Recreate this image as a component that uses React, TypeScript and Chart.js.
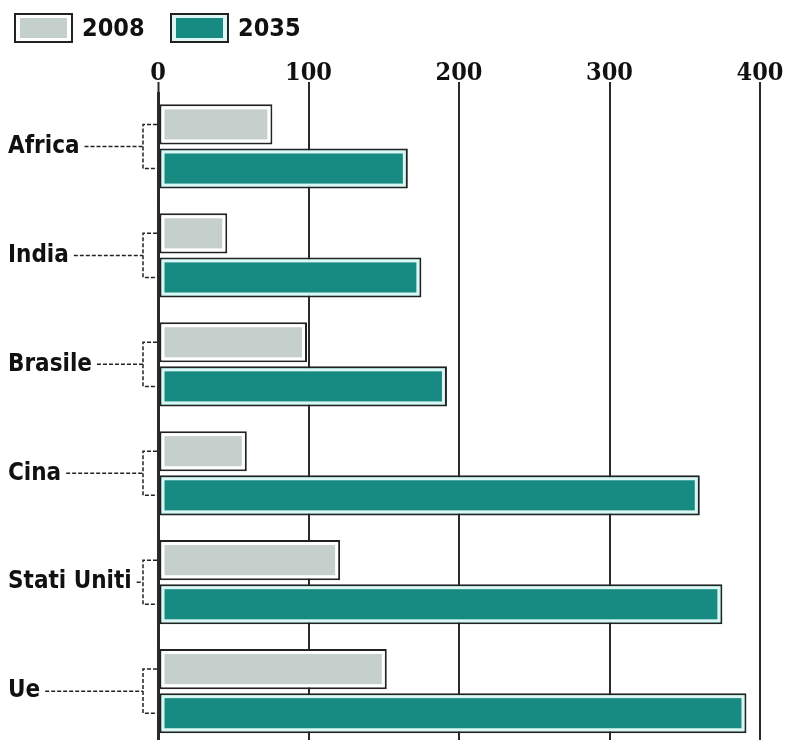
import React, { useEffect, useRef } from "react";
import { Chart, registerables } from "chart.js";

Chart.register(...registerables);

const categories = ["Africa", "India", "Brasile", "Cina", "Stati Uniti", "Ue"];
const seriesLabels = ["2008", "2035"];
const values2008 = [76, 46, 99, 59, 121, 152];
const values2035 = [166, 175, 192, 360, 375, 391];
const xTickMin = 0;
const xTickMax = 400;
const xTickStep = 100;

const COLOR_2008 = "#c5cfcb";
const COLOR_2035 = "#178a82";
const GAP_2008 = "#ffffff";
const GAP_2035 = "#dcf6f3";
const SANS = "'Liberation Sans Narrow', 'DejaVu Sans Condensed', 'Arial Narrow', sans-serif";
const SERIF = "'DejaVu Serif Condensed', 'DejaVu Serif', serif";
const LABEL_SIZE = 24;

const innerGapPlugin = {
  id: "innerGap",
  afterDatasetsDraw(chart: any) {
    const ctx = chart.ctx;
    chart.data.datasets.forEach((ds: any, di: number) => {
      const meta = chart.getDatasetMeta(di);
      meta.data.forEach((el: any) => {
        const { x, y, base, height } = el.getProps(["x", "y", "base", "height"], true);
        const left = Math.min(x, base);
        const right = Math.max(x, base);
        const top = y - height / 2;
        ctx.save();
        ctx.strokeStyle = ds.gapColor;
        ctx.lineWidth = 3;
        ctx.strokeRect(left + 3.5, top + 3.5, right - left - 7, height - 7);
        ctx.restore();
      });
    });
  },
};

const boxLegendPlugin = {
  id: "boxLegend",
  afterDraw(chart: any, _args: any, opts: any) {
    const ctx = chart.ctx;
    chart.data.datasets.forEach((ds: any, i: number) => {
      const bx = opts.boxX[i];
      const by = opts.boxY;
      const bw = opts.boxW;
      const bh = opts.boxH;
      ctx.save();
      ctx.fillStyle = "#ffffff";
      ctx.fillRect(bx, by, bw, bh);
      ctx.strokeStyle = "#222";
      ctx.lineWidth = 2;
      ctx.strokeRect(bx + 1, by + 1, bw - 2, bh - 2);
      ctx.fillStyle = ds.gapColor;
      ctx.fillRect(bx + 2, by + 2, bw - 4, bh - 4);
      ctx.fillStyle = ds.backgroundColor;
      ctx.fillRect(bx + 6, by + 5, bw - 12, bh - 10);
      ctx.fillStyle = "#111";
      ctx.font = `bold 25px ${SANS}`;
      ctx.textBaseline = "middle";
      ctx.textAlign = "left";
      ctx.fillText(ds.label, bx + bw + 9, by + bh / 2 + 1);
      ctx.restore();
    });
  },
};

const leaderPlugin = {
  id: "leaders",
  afterDatasetsDraw(chart: any) {
    const ctx = chart.ctx;
    const yScale = chart.scales.y;
    const m0 = chart.getDatasetMeta(0);
    const m1 = chart.getDatasetMeta(1);
    const axisX = chart.chartArea.left;
    const bracketX = axisX - 15;
    ctx.save();
    ctx.font = `bold ${LABEL_SIZE}px ${SANS}`;
    ctx.strokeStyle = "#222";
    ctx.lineWidth = 1.5;
    ctx.setLineDash([4, 2]);
    chart.data.labels.forEach((lab: string, i: number) => {
      const cy = yScale.getPixelForTick(i);
      const w = ctx.measureText(lab).width;
      const y0 = m0.data[i].y;
      const y1 = m1.data[i].y;
      ctx.beginPath();
      ctx.moveTo(yScale.left + w + 5, cy);
      ctx.lineTo(bracketX, cy);
      ctx.moveTo(axisX - 1, y0);
      ctx.lineTo(bracketX, y0);
      ctx.lineTo(bracketX, y1);
      ctx.lineTo(axisX - 1, y1);
      ctx.stroke();
    });
    ctx.restore();
  },
};

export default function App() {
  const canvasRef = useRef<HTMLCanvasElement | null>(null);

  useEffect(() => {
    if (!canvasRef.current) return;
    const chart = new Chart(canvasRef.current, {
      type: "bar",
      data: {
        labels: categories,
        datasets: [
          {
            label: seriesLabels[0],
            data: values2008,
            backgroundColor: COLOR_2008,
            borderColor: "#222",
            borderWidth: 2,
            borderSkipped: false,
            gapColor: GAP_2008,
          } as any,
          {
            label: seriesLabels[1],
            data: values2035,
            backgroundColor: COLOR_2035,
            borderColor: "#222",
            borderWidth: 2,
            borderSkipped: false,
            gapColor: GAP_2035,
          } as any,
        ],
      },
      options: {
        indexAxis: "y",
        responsive: false,
        animation: false,
        events: [],
        layout: { padding: { left: 8, top: 50, right: 27, bottom: 0 } },
        datasets: {
          bar: { categoryPercentage: 0.81, barPercentage: 0.909 },
        },
        plugins: {
          legend: { display: false },
          title: { display: false },
          tooltip: { enabled: false },
          boxLegend: { boxX: [14, 170], boxY: 13, boxW: 59, boxH: 30 },
        } as any,
        scales: {
          x: {
            position: "top",
            min: xTickMin,
            max: xTickMax,
            border: { display: false },
            grid: {
              color: "#2a2a2a",
              tickColor: "#2a2a2a",
              lineWidth: (c: any) => (c.tick && c.tick.value === 0 ? 3 : 2),
              tickWidth: 2,
              tickLength: 10,
              drawTicks: true,
            },
            ticks: {
              stepSize: xTickStep,
              color: "#111",
              padding: -4,
              maxRotation: 0,
              font: { family: SERIF, size: 25, weight: "bold", lineHeight: 1 },
            },
            afterFit: (s: any) => {
              s.height = 42;
            },
          },
          y: {
            grid: { display: false },
            border: { display: false },
            ticks: {
              color: "#111",
              crossAlign: "far",
              padding: 0,
              font: { family: SANS, size: LABEL_SIZE, weight: "bold" },
            },
            afterFit: (s: any) => {
              s.width = 150;
            },
          },
        },
      } as any,
      plugins: [innerGapPlugin, leaderPlugin, boxLegendPlugin],
    });
    return () => chart.destroy();
  }, []);

  return (
    <div
      style={{
        position: "absolute",
        left: 0,
        top: 0,
        width: 787,
        height: 740,
        overflow: "hidden",
        background: "#fff",
      }}
    >
      <canvas ref={canvasRef} width={787} height={760} style={{ display: "block" }} />
    </div>
  );
}
